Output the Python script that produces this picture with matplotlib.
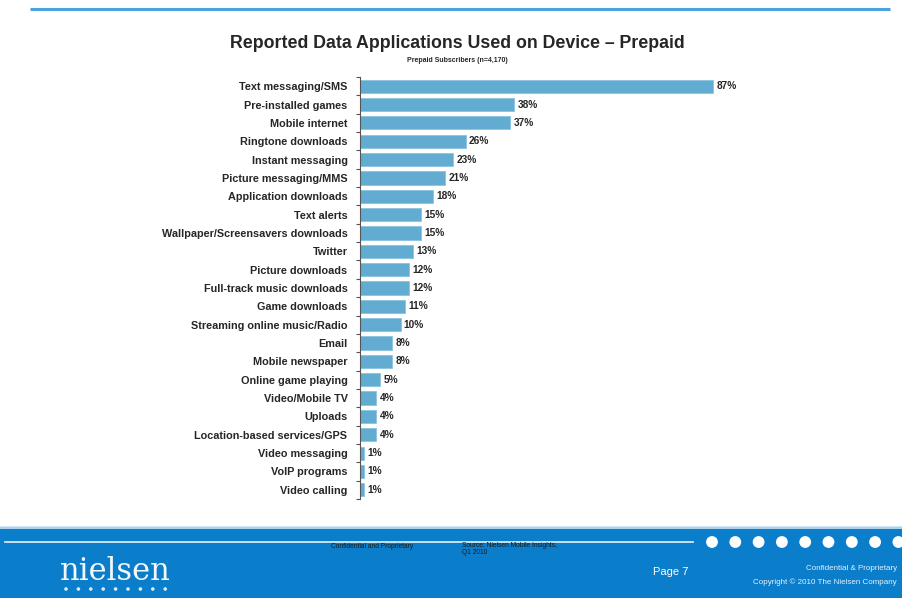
import matplotlib
matplotlib.use("Agg")
import matplotlib.pyplot as plt
from matplotlib.patches import Rectangle, Circle

plt.rcParams["font.family"] = ["Liberation Sans", "DejaVu Sans"]

# ── 数据 ────────────────────────────────────────────
apps = [
    "Text messaging/SMS", "Pre-installed games", "Mobile internet",
    "Ringtone downloads", "Instant messaging", "Picture messaging/MMS",
    "Application downloads", "Text alerts", "Wallpaper/Screensavers downloads",
    "Twitter", "Picture downloads", "Full-track music downloads",
    "Game downloads", "Streaming online music/Radio", "Email",
    "Mobile newspaper", "Online game playing", "Video/Mobile TV", "Uploads",
    "Location-based services/GPS", "Video messaging", "VoIP programs",
    "Video calling",
]
pct = [87, 38, 37, 26, 23, 21, 18, 15, 15, 13, 12, 12, 11, 10, 8, 8, 5, 4, 4, 4, 1, 1, 1]

title = "Reported Data Applications Used on Device \u2013 Prepaid"
subtitle = "Prepaid Subscribers (n=4,170)"

BAR = "#62acd2"
BAND = "#0a7dcb"
TXT = "#262626"

W, H = 902, 598
fig = plt.figure(figsize=(W / 100, H / 100), dpi=100)

# 页面背景层（像素坐标）
bg = fig.add_axes([0, 0, 1, 1])
bg.set_xlim(0, W)
bg.set_ylim(H, 0)
bg.axis("off")

bg.plot([30, 890], [9, 9], color="#4aa3df", lw=2.2, solid_capstyle="butt")

# 底部蓝色页脚
bg.add_patch(Rectangle((0, 527), W, H - 527, color=BAND, zorder=1))
bg.plot([0, W], [527.5, 527.5], color="#cfe3f3", lw=1.2, zorder=2)
bg.plot([5, 693], [542, 542], color="#d6e8f6", lw=1.3, zorder=2)
for i in range(9):
    bg.add_patch(Circle((712 + i * 23.3, 542), 5.2, color="white", zorder=3))
bg.text(115, 572, "nielsen", color="#f4f8fc", fontsize=22, family="DejaVu Serif",
        ha="center", va="center", zorder=3)
for i in range(9):
    bg.add_patch(Circle((66 + i * 12.4, 589), 1.1, color="#dbe9f5", zorder=3))
bg.text(372, 546, "Confidential and Proprietary", fontsize=4.8, color="#1a1a1a",
        ha="center", va="center", zorder=3)
bg.text(462, 549, "Source: Nielsen Mobile Insights,\nQ1 2010", fontsize=4.8,
        color="#1a1a1a", ha="left", va="center", linespacing=1.1, zorder=3)
bg.text(671, 572, "Page 7", fontsize=8, color="white", ha="center",
        va="center", zorder=3)
bg.text(897, 568, "Confidential & Proprietary", fontsize=5.8, color="#e8f1f9",
        ha="right", va="center", zorder=3)
bg.text(897, 582, "Copyright \u00a9 2010 The Nielsen Company", fontsize=5.8,
        color="#e8f1f9", ha="right", va="center", zorder=3)

bg.text(457, 44, title, fontsize=12.8, fontweight="bold", color=TXT,
        ha="center", va="center")
bg.text(457, 60, subtitle, fontsize=5, fontweight="bold", color=TXT,
        ha="center", va="center")

# ── 条形图 ──────────────────────────────────────────
x0, x1 = 360, 766          # 0%..100%
y_top, y_bot = 77, 499
ax = fig.add_axes([x0 / W, 1 - y_bot / H, (x1 - x0) / W, (y_bot - y_top) / H])
ax.patch.set_alpha(0)

n = len(apps)
ys = list(range(n))
ax.barh(ys, pct, height=0.72, color=BAR, edgecolor="#8cc4e2", linewidth=0.6)
for y, v in zip(ys, pct):
    ax.text(v + 0.8, y, f"{v}%", fontsize=7.3, fontweight="bold", color=TXT,
            ha="left", va="center")

ax.set_xlim(0, 100)
ax.set_ylim(n - 0.5, -0.5)
ax.set_yticks(ys)
ax.set_yticklabels(apps, fontsize=7.8, fontweight="bold", color=TXT)
ax.tick_params(axis="y", length=0, pad=9)
ax.set_yticks([i - 0.5 for i in range(n + 1)], minor=True)
ax.tick_params(axis="y", which="minor", length=3, width=0.8, color="#555555")
ax.set_xticks([])
for s in ["top", "right", "bottom"]:
    ax.spines[s].set_visible(False)
ax.spines["left"].set_color("#555555")
ax.spines["left"].set_linewidth(0.8)

fig.savefig("out.png", dpi=100)
